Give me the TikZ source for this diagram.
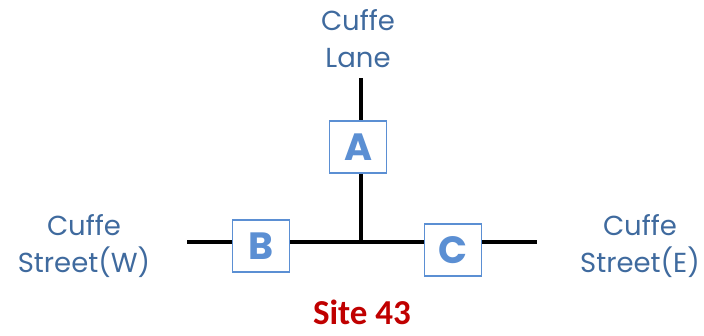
\documentclass[tikz,border=0pt]{standalone}
\usepackage{fontspec}
\setmainfont{Poppins}
\newfontfamily\sitefont{Carlito}
\definecolor{roadblue}{HTML}{3F6A9E}
\definecolor{boxblue}{HTML}{5B8FD3}
\definecolor{sitered}{HTML}{C00000}
\tikzset{
  road/.style = {line width=4.5pt},
  roadname/.style = {text=roadblue, font=\fontsize{27.5}{37}\selectfont, align=center},
  site/.style = {draw=boxblue, line width=1.6pt, fill=white, text=boxblue,
    minimum width=57pt, minimum height=52pt, inner sep=0pt,
    font=\fontsize{38}{38}\selectfont\bfseries}
}
\begin{document}
\begin{tikzpicture}[x=1pt, y=-1pt]
  \useasboundingbox (0,0) rectangle (704,335);

  % Les routes
  \coordinate (lane) at (361,78);
  \coordinate (junction) at (361,242);
  \coordinate (west) at (187,242);
  \coordinate (east) at (537,242);
  \draw[road] (lane) -- (junction);
  \draw[road] (west) -- (east);

  % Les sites
  \node[site] (A) at (358,147) {A};
  \node[site] (B) at (261,246) {B};
  \node[site] (C) at (453,250) {C};

  % Les noms
  \node[roadname] (lanename) at (358,39) {Cuffe\\Lane};
  \node[roadname] (westname) at (84,246) {Cuffe\\Street(W)};
  \node[roadname] (eastname) at (640,246) {Cuffe\\Street(E)};
  \node[text=sitered, font=\sitefont\fontsize{35}{35}\selectfont\bfseries] (title) at (362,312) {Site 43};
\end{tikzpicture}
\end{document}
